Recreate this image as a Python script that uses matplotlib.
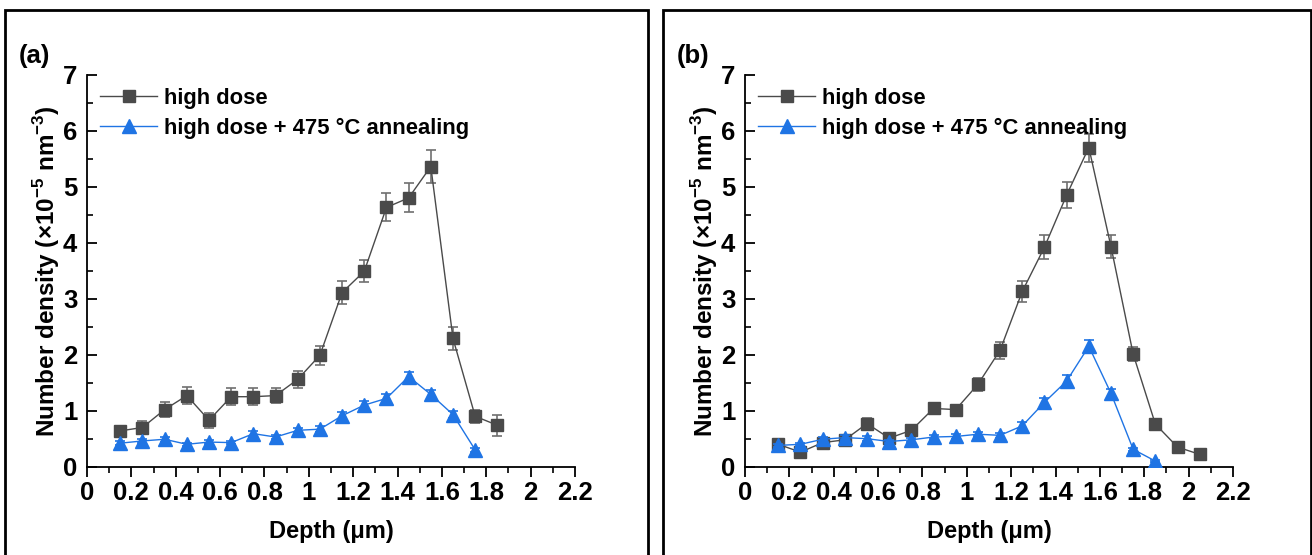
import matplotlib
matplotlib.use("Agg")
import matplotlib.pyplot as plt
from matplotlib.patches import Rectangle
from matplotlib.lines import Line2D
from matplotlib.ticker import MultipleLocator, FixedFormatter, FixedLocator

plt.rcParams.update({"font.family": ["Liberation Sans", "DejaVu Sans"], "font.weight": "bold",
                     "mathtext.fontset": "custom", "mathtext.rm": "Liberation Sans",
                     "mathtext.bf": "Liberation Sans:bold"})

# ---- data -------------------------------------------------------------------
xa_hd = [0.15, 0.25, 0.35, 0.45, 0.55, 0.65, 0.75, 0.85, 0.95, 1.05, 1.15, 1.25, 1.35, 1.45, 1.55, 1.65, 1.75, 1.85]
ya_hd = [0.64, 0.70, 1.02, 1.27, 0.83, 1.25, 1.25, 1.27, 1.56, 1.99, 3.11, 3.49, 4.63, 4.80, 5.36, 2.29, 0.90, 0.74]
ea_hd = [0.09, 0.12, 0.14, 0.15, 0.13, 0.15, 0.15, 0.14, 0.15, 0.17, 0.20, 0.20, 0.25, 0.26, 0.29, 0.21, 0.12, 0.19]
xa_an = [0.15, 0.25, 0.35, 0.45, 0.55, 0.65, 0.75, 0.85, 0.95, 1.05, 1.15, 1.25, 1.35, 1.45, 1.55, 1.65, 1.75]
ya_an = [0.42, 0.46, 0.49, 0.40, 0.44, 0.43, 0.59, 0.53, 0.65, 0.67, 0.91, 1.10, 1.22, 1.61, 1.29, 0.93, 0.30]
ea_an = [0.04, 0.04, 0.04, 0.03, 0.03, 0.03, 0.05, 0.04, 0.05, 0.05, 0.06, 0.07, 0.08, 0.09, 0.08, 0.06, 0.03]

xb_hd = [0.15, 0.25, 0.35, 0.45, 0.55, 0.65, 0.75, 0.85, 0.95, 1.05, 1.15, 1.25, 1.35, 1.45, 1.55, 1.65, 1.75, 1.85, 1.95, 2.05]
yb_hd = [0.40, 0.26, 0.43, 0.48, 0.77, 0.51, 0.65, 1.04, 1.02, 1.47, 2.08, 3.13, 3.92, 4.85, 5.70, 3.93, 2.01, 0.76, 0.35, 0.22]
eb_hd = [0.04, 0.03, 0.04, 0.05, 0.10, 0.05, 0.06, 0.09, 0.09, 0.11, 0.15, 0.19, 0.21, 0.23, 0.25, 0.20, 0.13, 0.05, 0.03, 0.02]
xb_an = [0.15, 0.25, 0.35, 0.45, 0.55, 0.65, 0.75, 0.85, 0.95, 1.05, 1.15, 1.25, 1.35, 1.45, 1.55, 1.65, 1.75, 1.85]
yb_an = [0.38, 0.40, 0.49, 0.52, 0.50, 0.45, 0.48, 0.53, 0.54, 0.58, 0.56, 0.73, 1.15, 1.53, 2.15, 1.31, 0.31, 0.10]
eb_an = [0.03, 0.03, 0.04, 0.04, 0.04, 0.03, 0.03, 0.04, 0.04, 0.04, 0.04, 0.06, 0.08, 0.10, 0.12, 0.08, 0.03, 0.02]

XTICKS = [0, 0.2, 0.4, 0.6, 0.8, 1.0, 1.2, 1.4, 1.6, 1.8, 2.0, 2.2]
XLABELS = ["0", "0.2", "0.4", "0.6", "0.8", "1", "1.2", "1.4", "1.6", "1.8", "2", "2.2"]
YTICKS = [0, 1, 2, 3, 4, 5, 6, 7]
SERIES = ["high dose", "high dose + 475 °C annealing"]

GRAY, BLUE = "#4a4a4a", "#1f74e4"

fig = plt.figure(figsize=(13.12, 5.55), dpi=100)
W, H = 1312, 555
# outer panel frames
for x0, x1 in [(5, 648), (663, 1311)]:
    fig.patches.append(Rectangle((x0 / W, -0.01), (x1 - x0) / W, 1 - 10 / H + 0.01,
                                 transform=fig.transFigure, fill=False, lw=2, ec="black"))

panels = [(87, "(a)", 19, xa_hd, ya_hd, ea_hd, xa_an, ya_an, ea_an),
          (745, "(b)", 677, xb_hd, yb_hd, eb_hd, xb_an, yb_an, eb_an)]
for left, tag, tx, xh, yh, eh, xn, yn, en in panels:
    ax = fig.add_axes([left / W, (H - 466.7) / H, 488 / W, 392 / H])
    ax.errorbar(xh, yh, yerr=eh, color=GRAY, lw=1.0, marker="s", ms=9, mfc=GRAY, mec=GRAY,
                ecolor="#707070", elinewidth=1.2, capsize=3.5, capthick=1.2, zorder=3)
    ax.errorbar(xn, yn, yerr=en, color=BLUE, lw=1.0, marker="^", ms=10, mfc=BLUE, mec=BLUE,
                ecolor=BLUE, elinewidth=1.2, capsize=3.5, capthick=1.2, zorder=4)
    ax.set_xlim(0, 2.2); ax.set_ylim(0, 7)
    for s in ("top", "right"):
        ax.spines[s].set_visible(False)
    ax.spines["left"].set_linewidth(1.3); ax.spines["bottom"].set_linewidth(1.3)
    ax.xaxis.set_major_locator(FixedLocator(XTICKS))
    ax.xaxis.set_major_formatter(FixedFormatter(XLABELS))
    ax.xaxis.set_minor_locator(MultipleLocator(0.1))
    ax.set_yticks(YTICKS)
    ax.yaxis.set_minor_locator(MultipleLocator(0.5))
    ax.tick_params(axis="x", which="major", direction="out", length=7, width=1.3, labelsize=18.5, pad=3)
    ax.tick_params(axis="x", which="minor", direction="out", length=4.5, width=1.2)
    ax.tick_params(axis="y", which="major", direction="in", length=7, width=1.3, labelsize=18.5, pad=7)
    ax.tick_params(axis="y", which="minor", direction="in", length=4.5, width=1.2)
    for lab in ax.get_xticklabels() + ax.get_yticklabels():
        lab.set_fontweight("bold")
    ax.set_xlabel("Depth (μm)", fontsize=17, fontweight="bold", labelpad=11)
    ax.set_ylabel(r"Number density (×10$^{\mathbf{-5}}$ nm$^{\mathbf{-3}}$)", fontsize=17.5,
                  fontweight="bold", labelpad=1)
    handles = [Line2D([], [], color=GRAY, lw=1.0, marker="s", ms=9),
               Line2D([], [], color=BLUE, lw=1.0, marker="^", ms=10)]
    leg = ax.legend(handles, SERIES, loc="upper left", bbox_to_anchor=(0.0, 1.0), frameon=False,
                    fontsize=15.8, handlelength=2.6, handletextpad=0.3, labelspacing=0.42, borderaxespad=0.2)
    for t in leg.get_texts():
        t.set_fontweight("bold")
    fig.text(tx / W, 1 - 56 / H, tag, fontsize=18.5, fontweight="bold", va="center", ha="left")

fig.savefig("out.png", dpi=100)
